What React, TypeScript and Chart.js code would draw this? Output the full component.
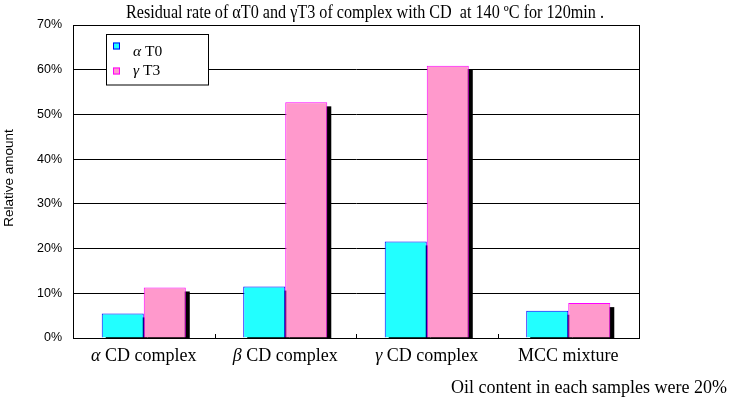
import React, { useEffect, useRef } from "react";
import { Chart, registerables } from "chart.js";

Chart.register(...registerables);

const TITLE = "Residual rate of αT0 and γT3 of complex with CD  at 140 ºC for 120min .";
const NOTE = "Oil content in each samples were 20%";
const Y_TITLE = "Relative amount";
const categories = ["α CD complex", "β CD complex", "γ CD complex", "MCC mixture"];
const seriesLabels = ["α T0", "γ T3"];
const alphaT0 = [5.5, 11.5, 21.6, 6.1];
const gammaT3 = [11.3, 52.7, 60.9, 7.8];
const yMin = 0;
const yMax = 70;
const yStep = 10;

const fills = ["#22FFFF", "#FF99CC"];
const borders = ["#0000FF", "#FF00FF"];

const SERIF = '"Liberation Serif", "Times New Roman", serif';
const SANS = '"Liberation Sans", Arial, sans-serif';

const isGreek = (ch: string) => /[\u0370-\u03FF]/.test(ch);

function drawMixed(ctx: CanvasRenderingContext2D, text: string, x: number, y: number, size: number, align: "left" | "center") {
  let greek = "";
  let rest = text;
  if (text.length > 0 && isGreek(text[0])) {
    greek = text[0];
    rest = text.slice(1);
  }
  ctx.font = `italic ${size}px ${SERIF}`;
  const gw = greek ? ctx.measureText(greek).width : 0;
  ctx.font = `${size}px ${SERIF}`;
  const rw = ctx.measureText(rest).width;
  const total = gw + rw;
  let start = align === "center" ? x - total / 2 : x;
  ctx.textAlign = "left";
  ctx.textBaseline = "alphabetic";
  if (greek) {
    ctx.font = `italic ${size}px ${SERIF}`;
    ctx.fillText(greek, start, y);
  }
  ctx.font = `${size}px ${SERIF}`;
  ctx.fillText(rest, start + gw, y);
}

const decorPlugin = {
  id: "decor",
  beforeDatasetsDraw(chart: any) {
    const { ctx, chartArea } = chart;
    ctx.save();
    ctx.beginPath();
    ctx.rect(chartArea.left, chartArea.top, chartArea.right - chartArea.left, chartArea.bottom - chartArea.top);
    ctx.clip();
    ctx.fillStyle = "#000";
    chart.data.datasets.forEach((_: any, di: number) => {
      const meta = chart.getDatasetMeta(di);
      meta.data.forEach((el: any) => {
        const p = el.getProps(["x", "y", "base", "width"], true);
        const left = p.x - p.width / 2 + 4;
        const top = p.y + 4;
        ctx.fillRect(left, top, p.width, p.base - top + 2);
      });
    });
    ctx.restore();
  },
  afterDatasetsDraw(chart: any) {
    const { ctx, chartArea } = chart;
    const xs = chart.scales.x;
    ctx.save();
    // frame
    ctx.strokeStyle = "#000";
    ctx.lineWidth = 1;
    ctx.strokeRect(
      Math.round(chartArea.left) + 0.5,
      Math.round(chartArea.top) + 0.5,
      Math.round(chartArea.right - chartArea.left),
      Math.round(chartArea.bottom - chartArea.top)
    );
    // category boundary ticks (inside)
    const n = categories.length;
    ctx.beginPath();
    for (let i = 1; i < n; i++) {
      const bx = Math.round((xs.getPixelForValue(i - 1) + xs.getPixelForValue(i)) / 2) + 0.5;
      ctx.moveTo(bx, chartArea.bottom);
      ctx.lineTo(bx, chartArea.bottom - 4);
    }
    ctx.stroke();

    ctx.fillStyle = "#000";
    // x labels
    categories.forEach((c, i) => {
      drawMixed(ctx, c, xs.getPixelForValue(i), 361, 18, "center");
    });

    // title (compressed horizontally)
    ctx.font = `18px ${SERIF}`;
    const tw = ctx.measureText(TITLE).width;
    const sx = 478 / tw;
    ctx.save();
    ctx.translate(365, 17.5);
    ctx.scale(sx, 1);
    ctx.textAlign = "center";
    ctx.textBaseline = "alphabetic";
    ctx.fillText(TITLE, 0, 0);
    ctx.restore();

    // y title
    ctx.save();
    ctx.translate(9, 178);
    ctx.rotate(-Math.PI / 2);
    ctx.font = `13.5px ${SANS}`;
    ctx.textAlign = "center";
    ctx.textBaseline = "middle";
    ctx.fillText(Y_TITLE, 0, 0);
    ctx.restore();

    // note
    ctx.font = `18px ${SERIF}`;
    ctx.textAlign = "right";
    ctx.textBaseline = "alphabetic";
    ctx.fillText(NOTE, 727, 393);

    // legend
    ctx.fillStyle = "#fff";
    ctx.fillRect(106.5, 34.5, 102, 50.5);
    ctx.strokeStyle = "#000";
    ctx.strokeRect(106.5, 34.5, 102, 50.5);
    const rows = [
      { sq: 42.5, base: 56 },
      { sq: 67.5, base: 75 },
    ];
    seriesLabels.forEach((lab, i) => {
      ctx.fillStyle = fills[i];
      ctx.fillRect(113, rows[i].sq, 7, 7);
      ctx.strokeStyle = borders[i];
      ctx.strokeRect(113.5, rows[i].sq + 0.5, 6, 6);
      ctx.fillStyle = "#000";
      drawMixed(ctx, lab, 133, rows[i].base, 15.5, "left");
    });
    ctx.restore();
  },
};

export default function App() {
  const ref = useRef<HTMLCanvasElement | null>(null);
  useEffect(() => {
    document.body.style.margin = "0";
    if (!ref.current) return;
    const chart = new Chart(ref.current, {
      type: "bar",
      data: {
        labels: categories,
        datasets: [
          {
            label: seriesLabels[0],
            data: alphaT0,
            backgroundColor: fills[0],
            borderColor: borders[0],
            borderWidth: 1,
            categoryPercentage: 0.594,
            barPercentage: 1,
          },
          {
            label: seriesLabels[1],
            data: gammaT3,
            backgroundColor: fills[1],
            borderColor: borders[1],
            borderWidth: 1,
            categoryPercentage: 0.594,
            barPercentage: 1,
          },
        ],
      },
      options: {
        animation: false,
        responsive: false,
        devicePixelRatio: 1,
        layout: { padding: { top: 25, right: 91, left: 0, bottom: 0 } },
        plugins: {
          legend: { display: false },
          title: { display: false },
          tooltip: { enabled: false },
        },
        scales: {
          x: {
            grid: { display: false },
            border: { display: false },
            ticks: { display: false },
            afterFit: (s: any) => {
              s.height = 60;
            },
          },
          y: {
            min: yMin,
            max: yMax,
            ticks: {
              stepSize: yStep,
              callback: (v: any) => `${v}%`,
              font: { family: "Liberation Sans", size: 12.5 },
              color: "#000",
              padding: 11,
            },
            grid: { color: "#000", lineWidth: 1, drawTicks: false },
            border: { display: true, color: "#000" },
            afterFit: (s: any) => {
              s.width = 73;
            },
          },
        },
      },
      plugins: [decorPlugin],
    } as any);
    return () => chart.destroy();
  }, []);
  return (
    <div style={{ position: "absolute", left: 0, top: 0, width: 730, height: 398, background: "#fff" }}>
      <canvas ref={ref} width={730} height={398} style={{ display: "block", width: 730, height: 398 }} />
    </div>
  );
}
